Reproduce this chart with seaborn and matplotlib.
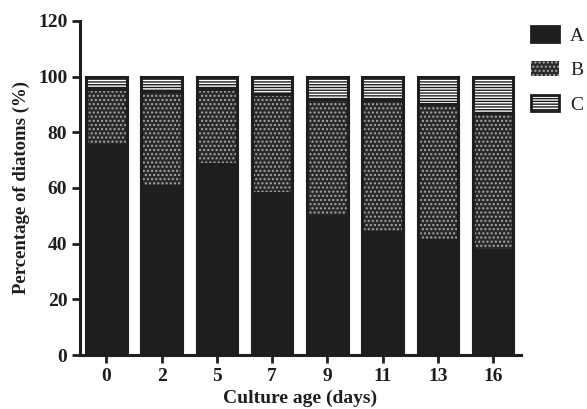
import numpy as np
import pandas as pd
import matplotlib
matplotlib.use("Agg")
import matplotlib.pyplot as plt
import seaborn as sns
from matplotlib.patches import Patch

days = ["0", "2", "5", "7", "9", "11", "13", "16"]
pct_A = [75.9, 61.1, 68.8, 58.7, 50.4, 44.6, 41.6, 38.0]
pct_B = [19.8, 33.8, 26.7, 35.0, 41.7, 47.0, 48.5, 48.9]
pct_C = [4.3, 5.1, 4.5, 6.3, 7.9, 8.4, 9.9, 13.1]

df = pd.DataFrame({"day": days, "A": pct_A, "B": pct_B, "C": pct_C})
df["AB"] = df["A"] + df["B"]
df["ABC"] = df["AB"] + df["C"]

sns.set_theme(style="ticks")
plt.rcParams["font.family"] = ["Liberation Serif", "DejaVu Serif"]
plt.rcParams["hatch.linewidth"] = 1.0

DARK = "#1e1e1e"
BFACE = "#2a2a2a"
BHATCH = "#a8a8a8"

fig = plt.figure(figsize=(5.87, 4.09), dpi=100)
ax = fig.add_axes([0.136, 0.132, 0.752, 0.817])

W = 0.73
order = days

def draw(col, **kw):
    n0 = len(ax.patches)
    sns.barplot(data=df, x="day", y=col, order=order, ax=ax, width=W,
                errorbar=None, **kw)
    return ax.patches[n0:]

# C layer (full stack)
for p in draw("ABC", color="white"):
    p.set_facecolor("white")
    p.set_edgecolor(DARK)
    p.set_hatch("------")
    p.set_linewidth(0)
# B layer
for p in draw("AB", color=BFACE):
    p.set_facecolor(BFACE)
    p.set_edgecolor(BHATCH)
    p.set_hatch("....")
    p.set_linewidth(0)
# A layer
for p in draw("A", color=DARK):
    p.set_facecolor(DARK)
    p.set_edgecolor(DARK)
    p.set_linewidth(0)
# outlines
for col in ["ABC", "AB"]:
    for p in draw(col, color="white"):
        p.set_facecolor("none")
        p.set_edgecolor(DARK)
        p.set_linewidth(2.2)

ax.set_xlim(-0.48, 7.51)
ax.set_ylim(0, 120)
ax.set_yticks(np.arange(0, 121, 20))
sns.despine(ax=ax)
for s in ["left", "bottom"]:
    ax.spines[s].set_linewidth(2.2)
    ax.spines[s].set_color(DARK)
ax.tick_params(axis="both", direction="out", length=6, width=2, color=DARK,
               labelsize=14, pad=3)
for t in ax.get_xticklabels() + ax.get_yticklabels():
    t.set_fontweight("bold")
    t.set_color(DARK)
ax.set_xlabel("Culture age (days)", fontsize=14, fontweight="bold", color=DARK, labelpad=4)
ax.set_ylabel("Percentage of diatoms (%)", fontsize=13.5, fontweight="bold", color=DARK, labelpad=6)

handles = [
    Patch(facecolor=DARK, edgecolor=DARK, linewidth=2),
    Patch(facecolor=BFACE, edgecolor=BHATCH, hatch="....", linewidth=0),
    Patch(facecolor="white", edgecolor=DARK, hatch="------", linewidth=2),
]
leg = fig.legend(handles, ["A", "B", "C"], loc="upper left",
                 bbox_to_anchor=(531 / 587, 1 - 26 / 409), frameon=False, fontsize=14,
                 handlelength=1.45, handleheight=0.88, labelspacing=0.82,
                 handletextpad=0.57, borderpad=0, borderaxespad=0)
for t in leg.get_texts():
    t.set_color(DARK)

fig.savefig("out.png", dpi=100)
